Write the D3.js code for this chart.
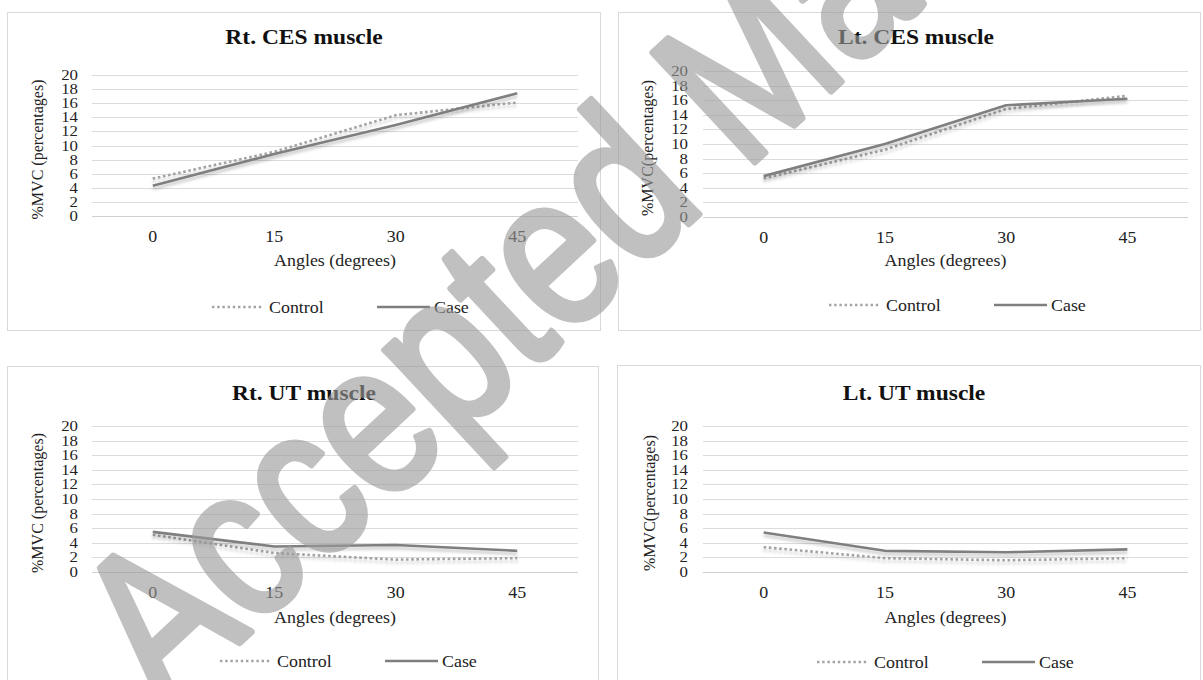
<!DOCTYPE html>
<html>
<head>
<meta charset="utf-8">
<script src="https://cdn.jsdelivr.net/npm/d3@7"></script>
<style>
  html, body { margin: 0; padding: 0; background: #ffffff; }
  svg { display: block; }
</style>
</head>
<body>
<svg id="chart" width="1203" height="680"></svg>
<script>
// ---------------- data ----------------
const angles = ["0", "15", "30", "45"];
const yTicks = [0, 2, 4, 6, 8, 10, 12, 14, 16, 18, 20];
const seriesNames = ["Control", "Case"];

const titles = ["Rt. CES muscle", "Lt. CES muscle", "Rt. UT muscle", "Lt. UT muscle"];
const yTitles = ["%MVC (percentages)", "%MVC(percentages)", "%MVC (percentages)", "%MVC(percentages)"];
const xTitle = "Angles (degrees)";

const rtCesControl = [5.3, 9.1, 14.3, 16.1];
const rtCesCase    = [4.3, 8.8, 12.9, 17.4];
const ltCesControl = [5.3, 9.2, 14.8, 16.6];
const ltCesCase    = [5.6, 10.0, 15.3, 16.2];
const rtUtControl  = [5.1, 2.6, 1.7, 1.9];
const rtUtCase     = [5.5, 3.5, 3.7, 2.9];
const ltUtControl  = [3.4, 1.9, 1.6, 1.9];
const ltUtCase     = [5.4, 2.9, 2.7, 3.1];

const watermark = "Accepted Manuscript";

// ---------------- layout ----------------
const SERIF = "'Liberation Serif', 'Times New Roman', Tinos, Times, 'Nimbus Roman', 'DejaVu Serif', serif";
const panels = [
  { control: rtCesControl, cas: rtCesCase,
    box: [7, 12, 600, 330], plot: [92, 578, 75, 216], titleY: 44, xLabY: 242, xTitleY: 266, legY: 307,
    titleX: 304, yTitleX: 38, tickRight: 78, legX: 212 },
  { control: ltCesControl, cas: ltCesCase,
    box: [618, 12, 1200, 330], plot: [703, 1188, 71, 217], titleY: 44, xLabY: 243, xTitleY: 266, legY: 305,
    titleX: 916, yTitleX: 648, tickRight: 688, legX: 829 },
  { control: rtUtControl, cas: rtUtCase,
    box: [7, 366, 598, 700], plot: [92, 578, 426, 572], titleY: 400, xLabY: 598, xTitleY: 623, legY: 661,
    titleX: 304, yTitleX: 38, tickRight: 78, legX: 220 },
  { control: ltUtControl, cas: ltUtCase,
    box: [617, 365, 1200, 700], plot: [703, 1188, 426, 572], titleY: 400, xLabY: 598, xTitleY: 623, legY: 662,
    titleX: 914, yTitleX: 650, tickRight: 688, legX: 817 }
];

const SX = 1.12; // horizontal stretch of the original figure text
const svg = d3.select("#chart");

const defs = svg.append("defs");
const f = defs.append("filter").attr("id", "shadow")
  .attr("x", "-10%").attr("y", "-50%").attr("width", "120%").attr("height", "200%");
f.append("feDropShadow").attr("dx", 0).attr("dy", 3).attr("stdDeviation", 1.8)
  .attr("flood-color", "#000").attr("flood-opacity", 0.22);

function addText(g, x, y, str, o) {
  o = o || {};
  return g.append("text")
    .attr("transform", `translate(${x},${y}) scale(${o.sx || SX},1)`)
    .attr("text-anchor", o.anchor || "middle")
    .attr("font-family", SERIF)
    .style("font-family", SERIF)
    .attr("font-size", o.size || 16)
    .attr("font-weight", o.weight || "normal")
    .attr("fill", o.fill || "#222")
    .text(str);
}

panels.forEach((p, i) => {
  const g = svg.append("g");
  const [bx0, by0, bx1, by1] = p.box;
  g.append("rect").attr("x", bx0 + 0.5).attr("y", by0 + 0.5)
    .attr("width", bx1 - bx0).attr("height", by1 - by0)
    .attr("fill", "#fff").attr("stroke", "#d9d9d9").attr("stroke-width", 1);

  const [pl, pr, pt, pb] = p.plot;
  const x = d3.scalePoint().domain(angles).range([pl, pr]).padding(0.5);
  const y = d3.scaleLinear().domain([0, 20]).range([pb, pt]);

  // gridlines
  g.append("g").selectAll("line").data(yTicks).join("line")
    .attr("x1", pl).attr("x2", pr)
    .attr("y1", d => Math.round(y(d)) + 0.5).attr("y2", d => Math.round(y(d)) + 0.5)
    .attr("stroke", d => d === 0 ? "#d0d0d0" : "#dcdcdc").attr("stroke-width", 1);

  // y tick labels
  yTicks.forEach(t => {
    addText(g, p.tickRight, y(t) + 5, String(t), { anchor: "end", size: 15, fill: "#222" });
  });
  // x tick labels
  angles.forEach(a => {
    addText(g, x(a), p.xLabY, a, { size: 16, fill: "#222" });
  });
  // axis titles
  addText(g, (pl + pr) / 2, p.xTitleY, xTitle, { size: 16, fill: "#222" });
  g.append("text")
    .attr("transform", `translate(${p.yTitleX + 5},${(pt + pb) / 2 + 4}) rotate(-90)`)
    .attr("text-anchor", "middle").attr("font-size", 16).attr("fill", "#222")
    .attr("font-family", SERIF).style("font-family", SERIF)
    .text(yTitles[i]);
  // title
  addText(g, p.titleX, p.titleY, titles[i], { size: 21, weight: "bold", fill: "#111" });

  // lines
  const line = d3.line().x((d, k) => x(angles[k])).y(d => y(d));
  g.append("path").datum(p.control).attr("d", line)
    .attr("fill", "none").attr("stroke", "#a3a3a3").attr("stroke-width", 2.6)
    .attr("stroke-dasharray", "2.6,2.6").attr("filter", "url(#shadow)");
  g.append("path").datum(p.cas).attr("d", line)
    .attr("fill", "none").attr("stroke", "#7f7f7f").attr("stroke-width", 2.6)
    .attr("stroke-linejoin", "round").attr("filter", "url(#shadow)");

  // legend
  const lx = p.legX, ly = p.legY;
  g.append("line").attr("x1", lx).attr("x2", lx + 50).attr("y1", ly).attr("y2", ly)
    .attr("stroke", "#a3a3a3").attr("stroke-width", 2.4).attr("stroke-dasharray", "2.4,2.8");
  addText(g, lx + 57, ly + 5.5, seriesNames[0], { anchor: "start", size: 16, fill: "#222" });
  g.append("line").attr("x1", lx + 165).attr("x2", lx + 218).attr("y1", ly).attr("y2", ly)
    .attr("stroke", "#7f7f7f").attr("stroke-width", 2.6);
  addText(g, lx + 222, ly + 5.5, seriesNames[1], { anchor: "start", size: 16, fill: "#222" });
});

// watermark
const SANS = "'Liberation Sans', Arial, Arimo, Helvetica, 'DejaVu Sans', sans-serif";
svg.append("text")
  .attr("transform", "translate(165,712) rotate(-43) scale(0.82,1)")
  .attr("font-family", SANS).style("font-family", SANS)
  .attr("font-size", 217)
  .attr("fill", "#9a9a9a").attr("stroke", "#9a9a9a").attr("stroke-width", 7)
  .attr("stroke-linejoin", "round")
  .attr("opacity", 0.62)
  .text(watermark);
</script>
</body>
</html>
